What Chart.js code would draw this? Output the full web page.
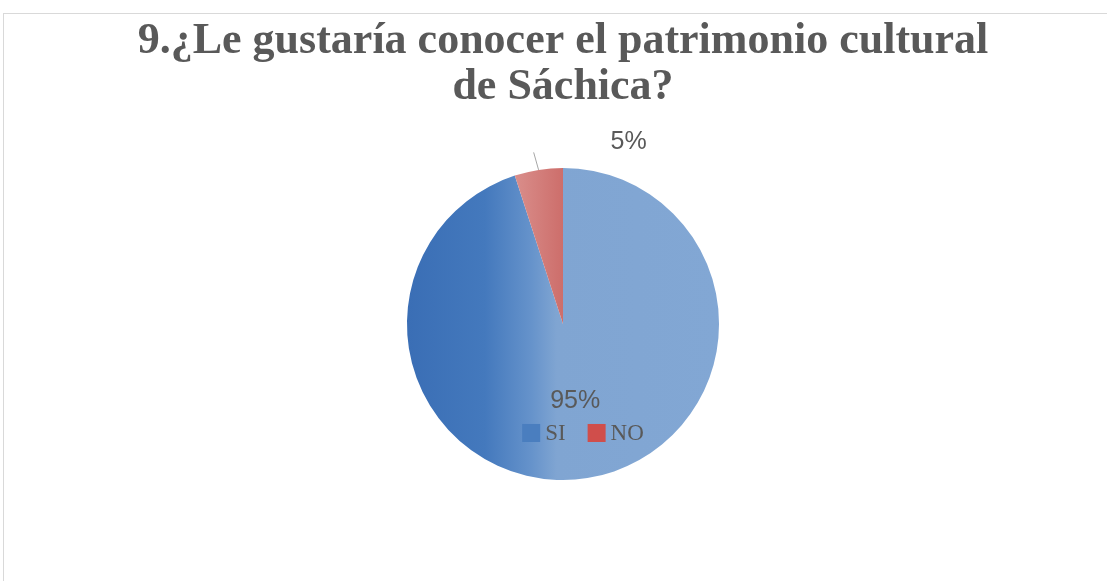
<!DOCTYPE html>
<html lang="es">
<head>
<meta charset="utf-8">
<title>Patrimonio cultural de Sáchica</title>
<script src="https://cdn.jsdelivr.net/npm/chart.js@4.4.1/dist/chart.umd.min.js"></script>
<style>
  html, body { margin: 0; padding: 0; background: #fff; }
  #marco { position: absolute; left: 3px; top: 13px; width: 1200px; height: 700px; border: 1px solid #d9d9d9; }
  #lienzo { position: absolute; left: 0; top: 0; width: 1107px; height: 581px; }
</style>
</head>
<body>
<div id="marco"></div>
<div id="lienzo"><canvas id="grafico"></canvas></div>
<script>
// Datos de la pregunta 9
const titulo = ['9.¿Le gustaría conocer el patrimonio cultural', 'de Sáchica?'];
const respuestas = ['SI', 'NO'];
const porcentajes = [95, 5];
const etiquetas = ['95%', '5%'];
const coloresLeyenda = ['#4a7ebf', '#d04e4b'];

// Degradado horizontal de cada sector (el azul se oscurece hacia la izquierda)
function rellenoSector(c) {
    const area = c.chart.chartArea;
    if (!area) return c.dataIndex === 0 ? '#81a6d3' : '#d27b79';
    const cx = (area.left + area.right) / 2;
    const r = Math.min(area.right - area.left, area.bottom - area.top) / 2;
    const g = c.chart.ctx;
    if (c.dataIndex === 0) {
        const grad = g.createLinearGradient(cx - r, 0, cx + r, 0);
        grad.addColorStop(0, '#3a6eb5');
        grad.addColorStop(0.25, '#4479bd');
        grad.addColorStop(0.4, '#6693cb');
        grad.addColorStop(0.48, '#80a5d2');
        grad.addColorStop(1, '#82a7d4');
        return grad;
    }
    const grad = g.createLinearGradient(cx - r * 0.3, 0, cx, 0);
    grad.addColorStop(0, '#d98d8a');
    grad.addColorStop(1, '#cd6e6b');
    return grad;
}

// Etiquetas de porcentaje y leyenda dibujadas sobre el pastel
const etiquetasPastel = {
    id: 'etiquetasPastel',
    afterDatasetsDraw(chart) {
        const ctx = chart.ctx;
        const arcos = chart.getDatasetMeta(0).data;
        let cx = 0, cy = 0;
        ctx.save();
        ctx.fillStyle = '#595959';
        ctx.font = '25px "Liberation Sans Narrow", "Liberation Sans", sans-serif';
        ctx.textAlign = 'center';
        ctx.textBaseline = 'middle';
        arcos.forEach((arco, i) => {
            const p = arco.getProps(['x', 'y', 'startAngle', 'endAngle', 'outerRadius'], true);
            cx = p.x; cy = p.y;
            const medio = (p.startAngle + p.endAngle) / 2;
            const cos = Math.cos(medio), sin = Math.sin(medio);
            if (porcentajes[i] > 10) {
                ctx.fillText(etiquetas[i], p.x + cos * p.outerRadius * 0.5, p.y + sin * p.outerRadius * 0.5);
            } else {
                // sector pequeño: etiqueta afuera con línea guía
                const x2 = p.x + cos * p.outerRadius * 1.12;
                const y2 = p.y + sin * p.outerRadius * 1.12;
                ctx.strokeStyle = '#a6a6a6';
                ctx.lineWidth = 1;
                ctx.beginPath();
                ctx.moveTo(p.x + cos * p.outerRadius, p.y + sin * p.outerRadius);
                ctx.lineTo(x2 - 2, y2 + 1);
                ctx.stroke();
                ctx.fillText(etiquetas[i], x2 + 93, y2 - 9);
            }
        });

        // leyenda
        ctx.font = '23px "Liberation Serif", serif';
        ctx.textAlign = 'left';
        const caja = 18, sep = 5, hueco = 22;
        const anchos = respuestas.map(t => ctx.measureText(t).width);
        const total = anchos.reduce((s, w) => s + caja + sep + w, 0) + hueco * (respuestas.length - 1);
        let x = cx + 20 - total / 2;
        const y = cy + 109;
        respuestas.forEach((t, i) => {
            ctx.fillStyle = coloresLeyenda[i];
            ctx.fillRect(x, y - caja / 2, caja, caja);
            ctx.fillStyle = '#595959';
            ctx.fillText(t, x + caja + sep, y + 1);
            x += caja + sep + anchos[i] + hueco;
        });
        ctx.restore();
    }
};

new Chart(document.getElementById('grafico'), {
    type: 'pie',
    data: {
        labels: respuestas,
        datasets: [{
            data: porcentajes,
            backgroundColor: rellenoSector,
            borderWidth: 0
        }]
    },
    options: {
        responsive: true,
        maintainAspectRatio: false,
        animation: false,
        layout: { padding: { top: 0, left: 19, right: 0, bottom: 101 } },
        plugins: {
            legend: { display: false },
            tooltip: { enabled: false },
            title: {
                display: true,
                text: titulo,
                color: '#595959',
                font: { family: '"Liberation Serif", serif', weight: 'bold', size: 44, lineHeight: 1.045 },
                padding: { top: 19, bottom: 57 }
            }
        }
    },
    plugins: [etiquetasPastel]
});
</script>
</body>
</html>
